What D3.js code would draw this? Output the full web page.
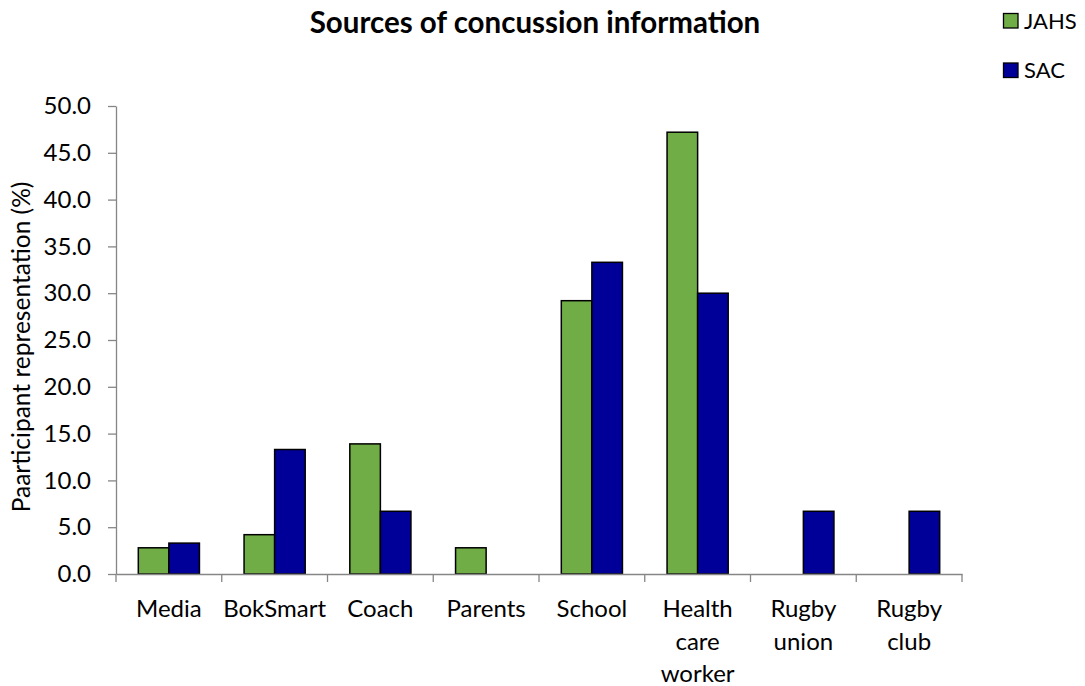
<!DOCTYPE html>
<html>
<head>
<meta charset="utf-8">
<script src="https://cdn.jsdelivr.net/npm/d3@7"></script>
<style>
  html, body { margin: 0; padding: 0; background: #fff; }
  svg { display: block; font-family: Lato, "Open Sans", sans-serif; }
</style>
</head>
<body>
<svg id="chart" width="1085" height="686"></svg>
<script>
// Sources of concussion information, by group (% of participants)
const categories = [
  ["Media"], ["BokSmart"], ["Coach"], ["Parents"], ["School"],
  ["Health", "care", "worker"], ["Rugby", "union"], ["Rugby", "club"]
];
const seriesNames = ["JAHS", "SAC"];
const jahsValues = [2.8, 4.2, 13.9, 2.8, 29.2, 47.2, 0, 0];
const sacValues  = [3.3, 13.3, 6.7, 0, 33.3, 30.0, 6.7, 6.7];
const yTicks = [0, 5, 10, 15, 20, 25, 30, 35, 40, 45, 50];
const colors = ["#70AD47", "#000099"];

const svg = d3.select("#chart");
const margin = { left: 116, right: 123, top: 106, bottom: 112 };
const W = 1085, H = 686;
const plotW = W - margin.left - margin.right;
const plotH = H - margin.top - margin.bottom;

const keys = categories.map(c => c.join(" "));
const x = d3.scaleBand().domain(keys).range([0, plotW]).paddingInner(0).paddingOuter(0);
const x1 = d3.scaleBand().domain(seriesNames).range([0, x.bandwidth()]).paddingInner(0).paddingOuter(0.73);
const y = d3.scaleLinear().domain([0, 50]).range([plotH, 0]);

const g = svg.append("g").attr("transform", `translate(${margin.left},${margin.top})`);

// Bars
const data = keys.map((k, i) => ({ key: k, values: [jahsValues[i], sacValues[i]] }));
const groups = g.selectAll(".grp").data(data).join("g")
  .attr("transform", d => `translate(${x(d.key)},0)`);
groups.selectAll("rect")
  .data(d => d.values.map((v, j) => ({ name: seriesNames[j], v, j })).filter(e => e.v > 0))
  .join("rect")
  .attr("x", d => x1(d.name))
  .attr("width", x1.bandwidth())
  .attr("y", d => y(d.v))
  .attr("height", d => y(0) - y(d.v))
  .attr("fill", d => colors[d.j])
  .attr("stroke", "#000")
  .attr("stroke-width", 1.5);

// Y axis
const yAxis = g.append("g")
  .call(d3.axisLeft(y).tickValues(yTicks).tickFormat(d3.format(".1f")).tickSize(8).tickSizeOuter(0));
yAxis.select(".domain").attr("stroke", "#868686").attr("stroke-width", 1.3);
yAxis.selectAll(".tick line").attr("stroke", "#868686").attr("stroke-width", 1.3);
yAxis.selectAll(".tick text").attr("font-size", 24).attr("fill", "#000").attr("x", -25)
  .attr("font-family", "Lato, sans-serif");

// X axis
const xAxis = g.append("g").attr("transform", `translate(0,${plotH})`)
  .call(d3.axisBottom(x).tickSize(0).tickFormat(""));
xAxis.select(".domain").attr("stroke", "#868686").attr("stroke-width", 1.3);
const boundaries = d3.range(keys.length + 1).map(i => i * x.step());
xAxis.selectAll(".bound").data(boundaries).join("line")
  .attr("x1", d => d).attr("x2", d => d).attr("y1", 0).attr("y2", 8)
  .attr("stroke", "#868686").attr("stroke-width", 1.3);

// Category labels (multi-line)
const labels = g.append("g");
categories.forEach((lines, i) => {
  const t = labels.append("text")
    .attr("text-anchor", "middle")
    .attr("font-size", 24)
    .attr("fill", "#000");
  lines.forEach((ln, k) => {
    t.append("tspan")
      .attr("x", x(keys[i]) + x.bandwidth() / 2)
      .attr("y", plotH + 43 + k * 32.5)
      .text(ln);
  });
});

// Y axis title
svg.append("text")
  .attr("transform", `translate(30,${margin.top + plotH / 2 + 7}) rotate(-90)`)
  .attr("text-anchor", "middle")
  .attr("font-size", 24.5)
  .attr("fill", "#000")
  .text("Paarticipant representation (%)");

// Title
svg.append("text")
  .attr("x", 535).attr("y", 33)
  .attr("text-anchor", "middle")
  .attr("font-size", 29.5)
  .attr("font-weight", "bold")
  .attr("fill", "#000")
  .text("Sources of concussion information");

// Legend
const legend = svg.append("g");
seriesNames.forEach((name, i) => {
  const ly = 13.5 + i * 49.5;
  legend.append("rect")
    .attr("x", 1003.5).attr("y", ly)
    .attr("width", 14.5).attr("height", 14.5)
    .attr("fill", colors[i])
    .attr("stroke", "#000").attr("stroke-width", 1.3);
  legend.append("text")
    .attr("x", 1024).attr("y", ly + 15)
    .attr("font-size", 22)
    .attr("fill", "#000")
    .text(name);
});
</script>
</body>
</html>
